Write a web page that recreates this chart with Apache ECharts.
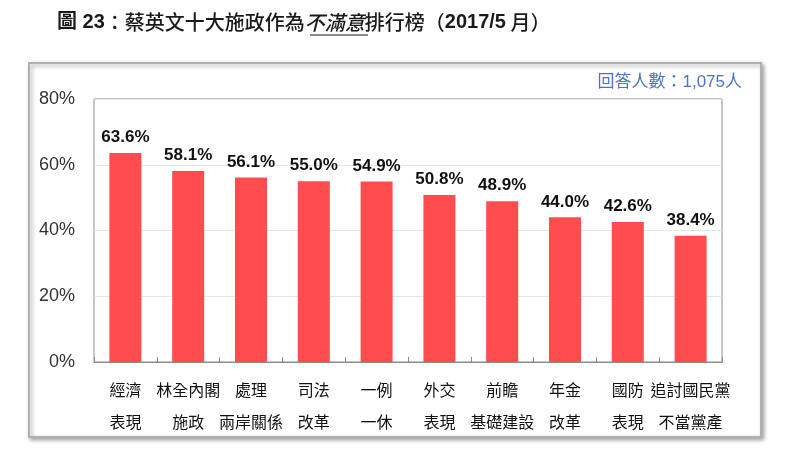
<!DOCTYPE html>
<html>
<head>
<meta charset="utf-8">
<script src="https://cdn.jsdelivr.net/npm/echarts@6/dist/echarts.min.js"></script>
<style>
  html, body { margin: 0; padding: 0; background: #fff; }
  #chart { width: 800px; height: 476px; }
</style>
</head>
<body>
<div id="chart"></div>
<script>
// 類別（兩行標籤）
const categories = [
  '經濟\n表現', '林全內閣\n施政', '處理\n兩岸關係', '司法\n改革', '一例\n一休',
  '外交\n表現', '前瞻\n基礎建設', '年金\n改革', '國防\n表現', '追討國民黨\n不當黨產'
];
// 不滿意比例 (%)
const values = [63.6, 58.1, 56.1, 55.0, 54.9, 50.8, 48.9, 44.0, 42.6, 38.4];
const yTicks = [0, 20, 40, 60, 80];

const FONT = '"Liberation Sans", "Noto Sans CJK TC", sans-serif';
const CJK = '"Noto Sans CJK TC", sans-serif';

const chart = echarts.init(document.getElementById('chart'), null, { renderer: 'canvas' });

chart.setOption({
  animation: false,
  textStyle: { fontFamily: FONT },
  title: {
    left: 57,
    top: 12,
    padding: 0,
    text: '{a|圖 23}{b|：蔡英文十大施政作為}{c|不滿意}{b|排行榜（}{a|2017/5}{b| 月）}',
    textStyle: {
      fontWeight: 'normal',
      rich: {
        a: { fontSize: 20, fontWeight: 'bold', color: '#1a1a1a', fontFamily: FONT },
        b: { fontSize: 20, fontWeight: 500, color: '#1a1a1a', fontFamily: CJK },
        c: { fontSize: 20, fontWeight: 500, color: '#1a1a1a', fontStyle: 'italic', fontFamily: CJK }
      }
    }
  },
  graphic: [
    {
      // 外框
      type: 'rect',
      z: -10,
      shape: { x: 29, y: 63, width: 732, height: 374 },
      style: {
        fill: '#fff',
        stroke: '#b0b0b0',
        lineWidth: 2,
        shadowBlur: 4,
        shadowOffsetX: 2,
        shadowOffsetY: 2,
        shadowColor: 'rgba(0,0,0,0.35)'
      }
    },
    {
      // 不滿意 底線
      type: 'line',
      shape: { x1: 310, y1: 35, x2: 368, y2: 35 },
      style: { stroke: '#1a1a1a', lineWidth: 1.2 }
    },
    {
      type: 'text',
      right: 58,
      top: 74,
      style: {
        text: '回答人數：1,075人',
        fill: '#4a74c9',
        font: '17px ' + FONT
      }
    }
  ],
  grid: {
    left: 94,
    right: 78,
    top: 99,
    bottom: 114,
    show: true,
    borderColor: '#8c8c8c',
    borderWidth: 1
  },
  xAxis: {
    type: 'category',
    data: categories,
    axisLine: { lineStyle: { color: '#8c8c8c', width: 1 } },
    axisTick: { show: true, inside: true, length: 5, lineStyle: { color: '#8c8c8c' } },
    axisLabel: {
      interval: 0,
      margin: 12,
      color: '#111',
      fontSize: 16,
      lineHeight: 32,
      fontFamily: CJK
    }
  },
  yAxis: {
    type: 'value',
    min: yTicks[0],
    max: yTicks[yTicks.length - 1],
    interval: 20,
    axisLine: { show: false },
    axisTick: { show: false },
    splitLine: { lineStyle: { color: '#e4e4e4', width: 1 } },
    axisLabel: {
      margin: 19,
      color: '#333',
      fontSize: 18,
      formatter: '{value}%'
    }
  },
  series: [{
    type: 'bar',
    data: values,
    barWidth: 32,
    itemStyle: { color: '#ff4d4f' },
    label: {
      show: true,
      position: 'top',
      distance: 7,
      color: '#111',
      fontSize: 17,
      fontWeight: 'bold',
      formatter: p => p.value.toFixed(1) + '%'
    }
  }]
});
</script>
</body>
</html>
